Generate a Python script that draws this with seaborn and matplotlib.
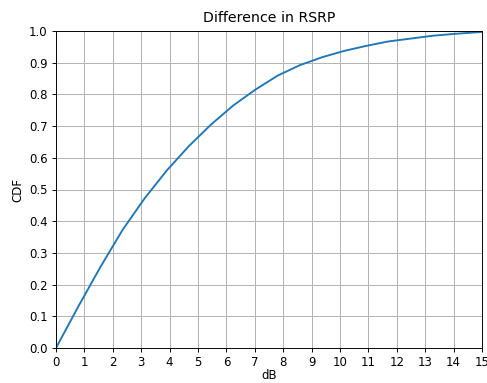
import numpy as np
import pandas as pd
import matplotlib
matplotlib.use("Agg")
import matplotlib.pyplot as plt
import seaborn as sns

# =========================
# data
# =========================
db = [0, 0.78, 1.56, 2.34, 3.12, 3.9, 4.68, 5.46, 6.24, 7.02, 7.8,
      8.58, 9.36, 10.14, 10.92, 11.7, 12.48, 13.26, 14.04, 14.82, 15.0]
cdf = [0, 0.13, 0.255, 0.372, 0.472, 0.56, 0.637, 0.705, 0.765, 0.815, 0.859,
       0.892, 0.917, 0.937, 0.953, 0.967, 0.976, 0.985, 0.991, 0.996, 0.997]

df = pd.DataFrame({"dB": db, "CDF": cdf})

# =========================
# plot
# =========================
DPI = 85
fig = plt.figure(figsize=(487 / DPI, 383 / DPI), dpi=DPI)
ax = fig.add_axes([56 / 487, 1 - 348 / 383, 426 / 487, 317 / 383])

sns.lineplot(data=df, x="dB", y="CDF", ax=ax, color="#1f77b4", linewidth=1.6)

ax.set_xlim(0, 15)
ax.set_ylim(0, 1)
ax.set_xticks(np.arange(0, 16, 1))
ax.set_yticks(np.round(np.arange(0, 1.01, 0.1), 1))
ax.grid(True)
ax.set_title("Difference in RSRP", pad=7.5)
ax.set_xlabel("dB", labelpad=0)
ax.set_ylabel("CDF")

fig.savefig("out.png", dpi=DPI)
